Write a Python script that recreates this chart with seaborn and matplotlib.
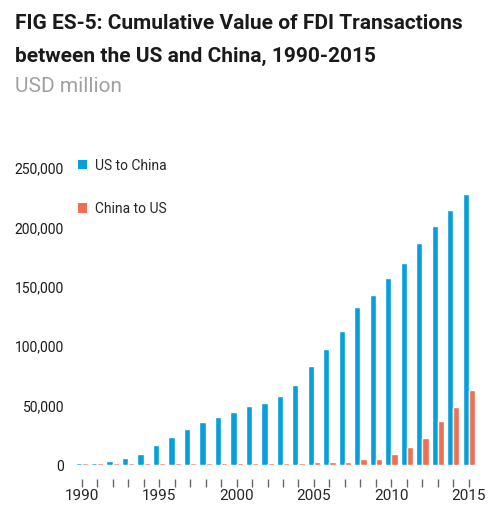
import matplotlib
matplotlib.use("Agg")
import matplotlib.pyplot as plt
import seaborn as sns
import pandas as pd
from matplotlib.patches import Patch

years = list(range(1990, 2016))
us_to_china = [1800, 1800, 3000, 6000, 9500, 17000, 24000, 30000, 36000, 40000,
               45000, 49500, 52000, 58000, 67000, 83000, 97500, 113000, 133000, 143500,
               157000, 170000, 187000, 201500, 215000, 228000]
china_to_us = [1800, 1800, 1800, 1800, 1800, 1800, 1800, 1800, 1800, 1800,
               1800, 1800, 1800, 1800, 1800, 2800, 2800, 2800, 4800, 4800,
               9000, 15000, 22500, 37000, 49000, 63500]
series = ["US to China", "China to US"]
colors = ["#069fdb", "#f06e52"]
tick_labels = ["1990", "1995", "2000", "2005", "2010", "2015"]

df = pd.DataFrame({
    "Year": years * 2,
    "Value": us_to_china + china_to_us,
    "Direction": [series[0]] * len(years) + [series[1]] * len(years),
})

sns.set_theme(style="white")
plt.rcParams["font.family"] = ["Roboto", "DejaVu Sans"]

fig = plt.figure(figsize=(4.98, 5.16), dpi=100)
ax = fig.add_axes([0.1454, 0.0988, 0.8146, 0.5756])

sns.barplot(data=df, x="Year", y="Value", hue="Direction", palette=colors,
            width=0.8, ax=ax, legend=False, saturation=1)

ax.set_xlim(-0.6, 25.6)
ax.set_ylim(0, 250000)
ax.set_yticks([0, 50000, 100000, 150000, 200000, 250000])
ax.set_yticklabels([f"{v:,}" for v in [0, 50000, 100000, 150000, 200000, 250000]],
                   fontsize=10, color="#1a1a1a")
ax.set_xticks(range(len(years)))
ax.set_xticklabels([str(y) if str(y) in tick_labels else "" for y in years],
                   fontsize=10.5, color="#1a1a1a")
ax.tick_params(axis="y", length=0, pad=6)
ax.tick_params(axis="x", length=6, width=1, color="#666666", direction="out", pad=1, bottom=True)
for s in ["top", "right", "left"]:
    ax.spines[s].set_visible(False)
ax.spines["bottom"].set_position(("outward", 10))
ax.spines["bottom"].set_visible(False)
ax.set_xlabel("")
ax.set_ylabel("")

handles = [Patch(facecolor=c, edgecolor="none", label=l) for c, l in zip(colors, series)]
ax.legend(handles=handles, loc="upper left", bbox_to_anchor=(0.0, 1.05), frameon=False,
          fontsize=10, handlelength=0.65, handleheight=0.65, handletextpad=0.6,
          labelspacing=2.1, borderaxespad=0)

fig.text(0.03, 0.972, "FIG ES-5: Cumulative Value of FDI Transactions", fontsize=15,
         fontweight="bold", color="#1a1a1a", va="top", ha="left")
fig.text(0.03, 0.909, "between the US and China, 1990-2015", fontsize=15,
         fontweight="bold", color="#1a1a1a", va="top", ha="left")
fig.text(0.03, 0.850, "USD million", fontsize=15, color="#a0a0a0", va="top", ha="left")

fig.savefig("out.png", dpi=100)
